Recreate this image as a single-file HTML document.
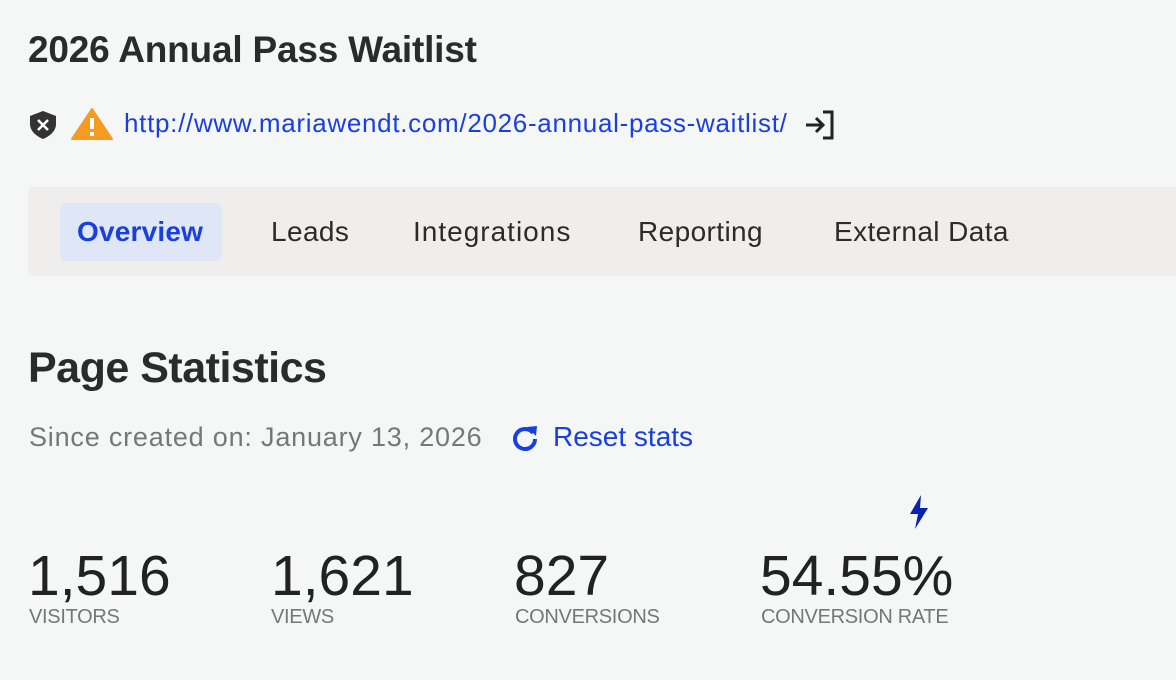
<!DOCTYPE html>
<html><head><meta charset="utf-8"><style>
body{margin:0;width:1176px;height:680px;background:#f5f6f6;font-family:"Liberation Sans",sans-serif;color:#2b2b2b;position:relative;overflow:hidden}
.a{position:absolute;white-space:nowrap}
.tabs{position:absolute;left:28px;top:187px;width:1160px;height:89px;background:#efeeed;border-radius:6px}
.tab{position:absolute;top:216px;font-size:28px;color:#2b2b2b;letter-spacing:0.4px}
.num{position:absolute;top:543px;font-size:57px;color:#222;letter-spacing:0px}
.lbl{position:absolute;top:606px;font-size:20px;color:#777;letter-spacing:-0.3px}
</style></head><body>
<div class="a" style="left:28px;top:29px;font-size:37px;font-weight:bold;letter-spacing:-0.2px">2026 Annual Pass Waitlist</div>
<svg class="a" style="left:28px;top:110px" width="30" height="30" viewBox="0 0 30 30"><path d="M15 1 L28 6 V14 C28 21 22 26 15 29 C8 26 2 21 2 14 V6 Z" fill="#333"/><path d="M10 10 L20 20 M20 10 L10 20" stroke="#fff" stroke-width="2.5"/></svg>
<svg class="a" style="left:71px;top:108px" width="42" height="32" viewBox="0 0 42 32"><path d="M21 1 L41 31 H1 Z" fill="#f39c21" stroke="#f39c21" stroke-linejoin="round" stroke-width="2"/><rect x="19" y="10" width="4" height="11" fill="#fff"/><rect x="19" y="24" width="4" height="4" fill="#fff"/></svg>
<div class="a" style="left:124px;top:108px;font-size:26px;color:#1a3fe0;letter-spacing:0.7px">http://www.mariawendt.com/2026-annual-pass-waitlist/</div>
<svg class="a" style="left:803px;top:109px" width="32" height="32" viewBox="0 0 32 32"><path d="M20 3 H29 V29 H20" fill="none" stroke="#222" stroke-width="3"/><path d="M3 16 H20 M13 9 L20 16 L13 23" fill="none" stroke="#222" stroke-width="3"/></svg>
<div class="tabs"></div>
<div class="a" style="left:60px;top:203px;width:162px;height:58px;background:#dfe6f6;border-radius:6px"></div>
<div class="tab" style="left:77px;color:#1a3fe0;font-weight:bold;letter-spacing:0.2px">Overview</div>
<div class="tab" style="left:271px">Leads</div>
<div class="tab" style="left:413px;letter-spacing:1px">Integrations</div>
<div class="tab" style="left:638px">Reporting</div>
<div class="tab" style="left:834px">External Data</div>
<div class="a" style="left:28px;top:344px;font-size:43px;font-weight:bold;letter-spacing:-0.5px">Page Statistics</div>
<div class="a" style="left:29px;top:422px;font-size:27px;color:#777;letter-spacing:0.8px">Since created on: January 13, 2026</div>
<svg class="a" style="left:510px;top:423px" width="30" height="30" viewBox="0 0 30 30"><path d="M23 10 A10 10 0 1 0 25 16" fill="none" stroke="#1a3fe0" stroke-width="4"/><path d="M17 4 L27 3 L26 13 Z" fill="#1a3fe0"/></svg>
<div class="a" style="left:553px;top:421px;font-size:28px;color:#1a3fe0">Reset stats</div>
<svg class="a" style="left:908px;top:495px" width="22" height="34" viewBox="0 0 22 34"><path d="M13 0 L2 19 H10 L7 34 L20 13 H12 Z" fill="#0b22b0"/></svg>
<div class="num" style="left:28px">1,516</div>
<div class="num" style="left:271px">1,621</div>
<div class="num" style="left:514px">827</div>
<div class="num" style="left:760px">54.55%</div>
<div class="lbl" style="left:29px">VISITORS</div>
<div class="lbl" style="left:271px">VIEWS</div>
<div class="lbl" style="left:515px">CONVERSIONS</div>
<div class="lbl" style="left:761px">CONVERSION RATE</div>
</body></html>
